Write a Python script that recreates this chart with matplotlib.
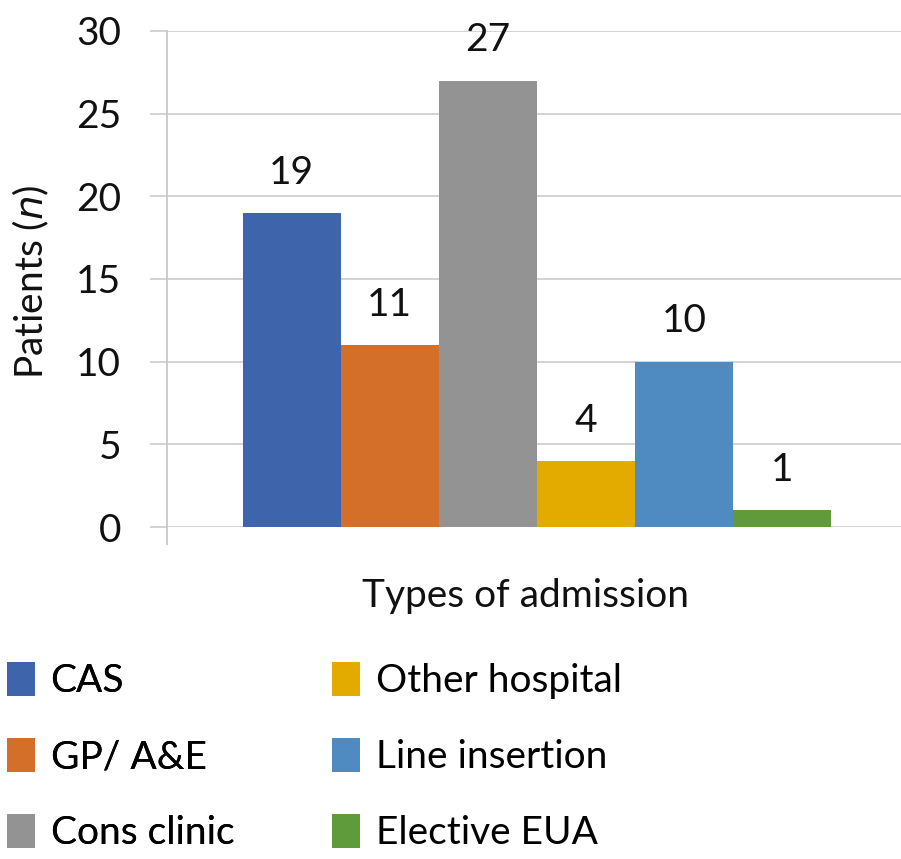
import matplotlib
matplotlib.use("Agg")
import matplotlib.pyplot as plt
from matplotlib.patches import Patch

plt.rcParams['font.family'] = ['Lato', 'DejaVu Sans']

categories = ["CAS", "GP/ A&E", "Cons clinic", "Other hospital", "Line insertion", "Elective EUA"]
patients = [19, 11, 27, 4, 10, 1]
colors = ["#3E64AC", "#D46F2A", "#939393", "#E3AA00", "#4F8AC1", "#5F9A3B"]
y_ticks = [0, 5, 10, 15, 20, 25, 30]

FS = 28
W, H = 901, 859
fig = plt.figure(figsize=(W / 100, H / 100), dpi=100)
ax = fig.add_axes([167 / W, (H - 527) / H, 736 / W, (527 - 31) / H])

xs = list(range(len(categories)))
ax.bar(xs, patients, width=1.0, color=colors, zorder=3)
for x, v in zip(xs, patients):
    ax.text(x, v + 1.35, str(v), ha="center", va="bottom", fontsize=FS, color="#111111")

ax.set_xlim(-1.27, 6.23)
ax.set_ylim(0, 30)
ax.set_yticks(y_ticks)
ax.set_yticklabels([str(t) for t in y_ticks], fontsize=FS)
ax.yaxis.grid(True, color="#D0D0D0", linewidth=1.3, zorder=0)
ax.tick_params(axis="y", length=12, width=1.3, color="#D0D0D0", pad=21, labelcolor="#111111")
ax.set_xticks([-1.27])
ax.set_xticklabels([""])
ax.tick_params(axis="x", length=13, width=1.3, color="#C8C8C8", direction="out")

for s in ["top", "right", "bottom"]:
    ax.spines[s].set_visible(False)
ax.spines["left"].set_color("#C8C8C8")
ax.spines["left"].set_linewidth(1.3)

ax.set_xlabel("Types of admission", fontsize=FS, color="#111111")
ax.xaxis.label.set_va("center")
ax.xaxis.set_label_coords((526 - 167) / 736, -(596 - 527) / 496)
ax.set_ylabel("Patients ($\\it{n}$)", fontsize=FS, color="#111111")
ax.yaxis.label.set_va("center")
ax.yaxis.set_label_coords((31 - 167) / 736, (527 - 282) / 496)

handles = [Patch(facecolor=c, edgecolor="none") for c in colors]
leg_kw = dict(loc="upper left", frameon=False, fontsize=FS,
              handlelength=0.72, handleheight=0.95, handletextpad=0.4,
              labelspacing=1.0, borderpad=0, borderaxespad=0)
leg1 = fig.legend(handles[:3], categories[:3], bbox_to_anchor=(7 / W, 1 - 662 / H), **leg_kw)
leg2 = fig.legend(handles[3:], categories[3:], bbox_to_anchor=(332 / W, 1 - 662 / H), **leg_kw)
fig.add_artist(leg1)

fig.savefig("out.png", dpi=100)
